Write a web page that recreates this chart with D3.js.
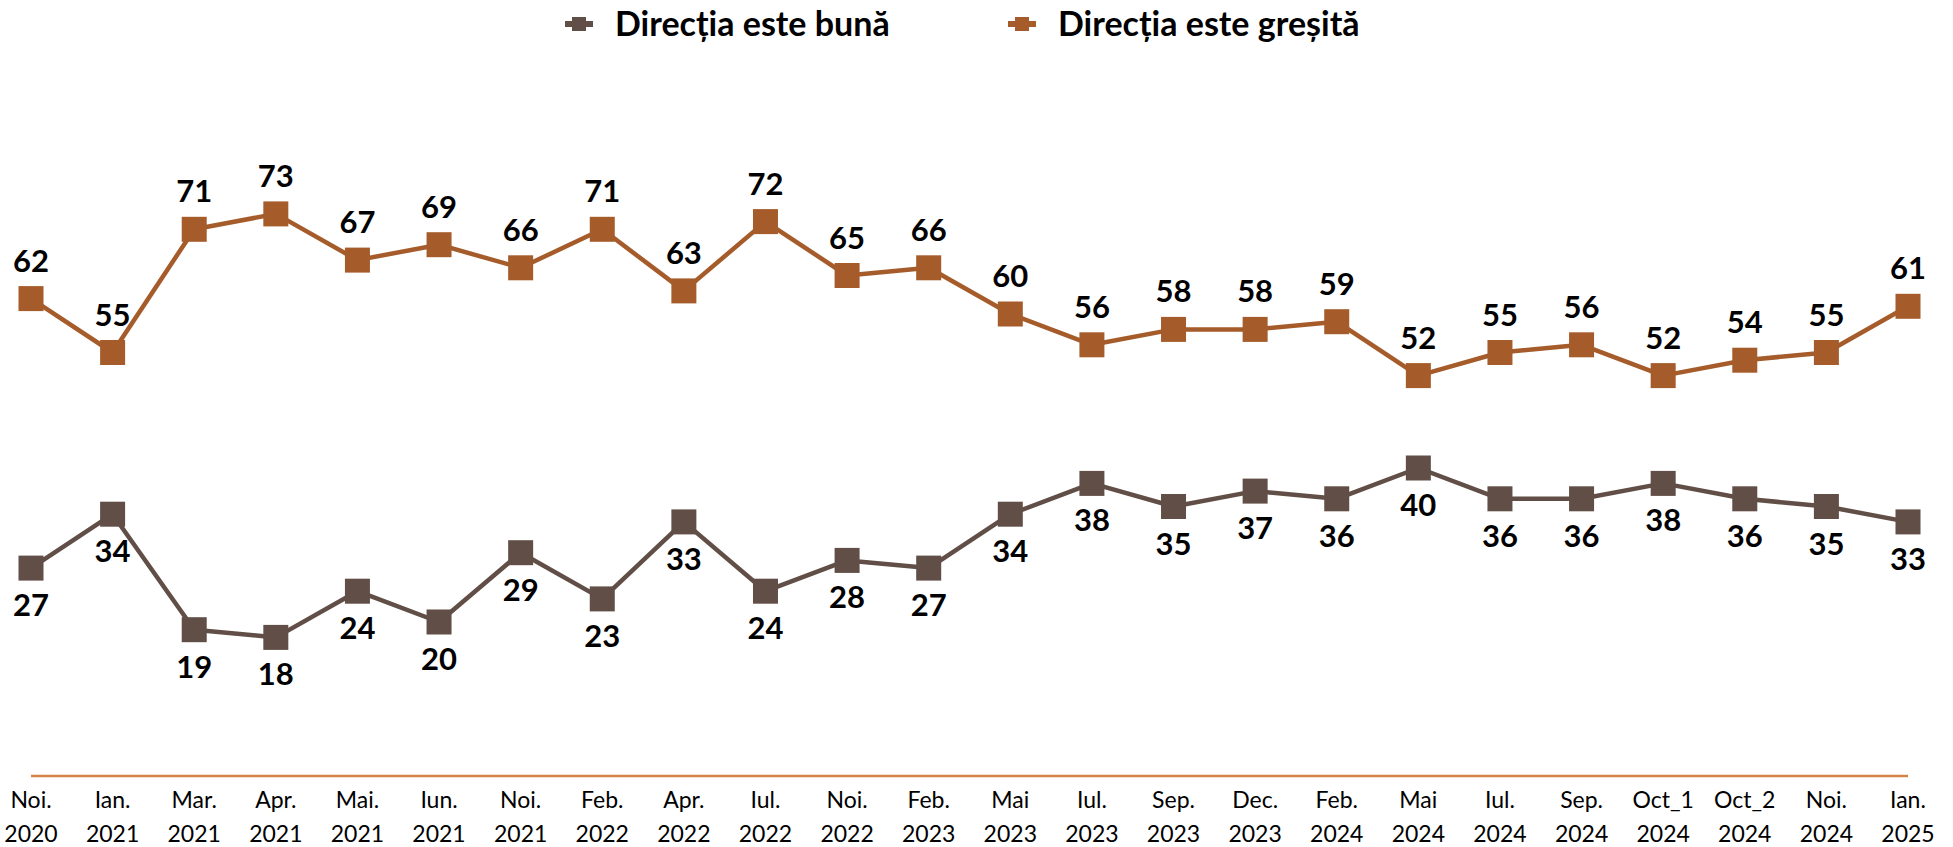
<!DOCTYPE html>
<html>
<head>
<meta charset="utf-8">
<script src="https://cdn.jsdelivr.net/npm/d3@7"></script>
<style>
  html, body { margin: 0; padding: 0; background: #fff; }
  svg { display: block; font-family: Lato, "Open Sans", sans-serif; }
</style>
</head>
<body>
<div id="chart"></div>
<script>
// lunile sondajelor (doua randuri pe axa)
const luni = ["Noi.", "Ian.", "Mar.", "Apr.", "Mai.", "Iun.", "Noi.", "Feb.", "Apr.", "Iul.", "Noi.", "Feb.",
              "Mai", "Iul.", "Sep.", "Dec.", "Feb.", "Mai", "Iul.", "Sep.", "Oct_1", "Oct_2", "Noi.", "Ian."];
const ani = ["2020", "2021", "2021", "2021", "2021", "2021", "2021", "2022", "2022", "2022", "2022", "2023",
             "2023", "2023", "2023", "2023", "2024", "2024", "2024", "2024", "2024", "2024", "2024", "2025"];

// procente
const directieBuna = [27, 34, 19, 18, 24, 20, 29, 23, 33, 24, 28, 27, 34, 38, 35, 37, 36, 40, 36, 36, 38, 36, 35, 33];
const directieGresita = [62, 55, 71, 73, 67, 69, 66, 71, 63, 72, 65, 66, 60, 56, 58, 58, 59, 52, 55, 56, 52, 54, 55, 61];

const serii = [
    {nume: "Direcția este bună", valori: directieBuna, culoare: "#614F47", pozitie: "jos"},
    {nume: "Direcția este greșită", valori: directieGresita, culoare: "#A55C2A", pozitie: "sus"}
];

const width = 1953, height = 847;
const categorii = luni.map((l, i) => i);

let svg = d3.select("#chart").append("svg")
    .attr("width", width)
    .attr("height", height);

let x = d3.scalePoint().domain(categorii).range([31, 1908]);
let y = d3.scaleLinear().domain([0, 100]).range([776, 6]);

// linia axei
svg.append("line")
    .attr("x1", x(0)).attr("x2", x(categorii.length - 1))
    .attr("y1", y(0)).attr("y2", y(0))
    .attr("stroke", "#D5834B")
    .attr("stroke-width", 2.5);

// etichete axa x
let etichete = svg.append("g").selectAll("text")
    .data(categorii)
    .enter().append("text")
    .attr("x", d => x(d))
    .attr("text-anchor", "middle")
    .style("font-size", "23px")
    .attr("fill", "#000");
etichete.append("tspan").attr("x", d => x(d)).attr("y", 808).text(d => luni[d]);
etichete.append("tspan").attr("x", d => x(d)).attr("y", 842).text(d => ani[d]);

let line = d3.line()
    .x((d, i) => x(i))
    .y(d => y(d));

const marime = 25;

serii.forEach(function(s) {
    let g = svg.append("g");

    g.append("path")
        .attr("d", line(s.valori))
        .attr("fill", "none")
        .attr("stroke", s.culoare)
        .attr("stroke-width", 4.5)
        .attr("stroke-linejoin", "round");

    g.selectAll("rect")
        .data(s.valori)
        .enter().append("rect")
        .attr("x", (d, i) => x(i) - marime / 2)
        .attr("y", d => y(d) - marime / 2)
        .attr("width", marime)
        .attr("height", marime)
        .attr("fill", s.culoare);

    g.selectAll("text")
        .data(s.valori)
        .enter().append("text")
        .attr("x", (d, i) => x(i))
        .attr("y", d => s.pozitie == "sus" ? y(d) - 27 : y(d) + 48)
        .attr("text-anchor", "middle")
        .style("font-size", "31px")
        .style("font-weight", "bold")
        .attr("fill", "#000")
        .text(d => d);
});

// legenda
const legendaX = [579, 1022];
let legenda = svg.append("g").selectAll("g")
    .data(serii)
    .enter().append("g")
    .attr("transform", (d, i) => "translate(" + legendaX[i] + ",24)");

legenda.append("line")
    .attr("x1", -14).attr("x2", 14)
    .attr("stroke", d => d.culoare)
    .attr("stroke-width", 6);
legenda.append("rect")
    .attr("x", -7).attr("y", -7)
    .attr("width", 14).attr("height", 14)
    .attr("fill", d => d.culoare);
legenda.append("text")
    .attr("x", 36)
    .attr("y", 12)
    .style("font-size", "34px")
    .style("font-weight", "bold")
    .attr("fill", "#000")
    .text(d => d.nume);
</script>
</body>
</html>
